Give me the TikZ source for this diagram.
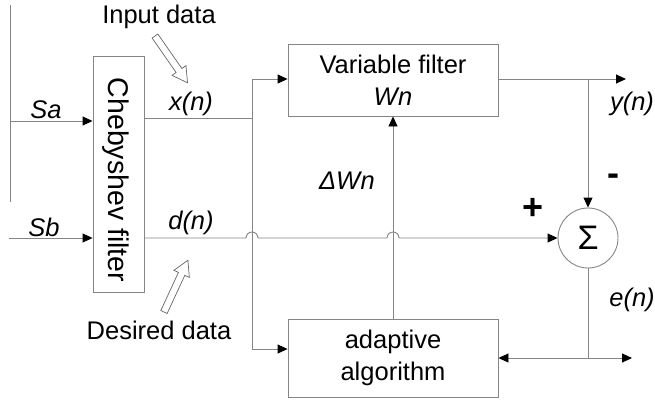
\documentclass[tikz,border=0pt]{standalone}
\usepackage{fontspec}
\setmainfont{Liberation Sans}
\usetikzlibrary{arrows.meta}
\begin{document}
\begin{tikzpicture}[x=1pt,y=-1pt,
  line/.style={draw=black!48, line width=0.9pt},
  tip/.style={-{Triangle[length=10pt,width=9pt,color=black]}},
  box/.style={line, rectangle, inner sep=0pt, align=center, font=\fontsize{25.5}{32}\selectfont},
  lbl/.style={font=\fontsize{25.5}{28}\selectfont\itshape, inner sep=0pt},
  txt/.style={font=\fontsize{25.5}{28}\selectfont, inner sep=0pt},
  sign/.style={font=\fontsize{36}{36}\selectfont\bfseries, inner sep=0pt},
  hollow/.style={draw=black!60, line width=0.7pt, fill=white}]
\useasboundingbox (0,0) rectangle (655,400);
% blocks
\node[box, minimum width=51pt, minimum height=236pt] (cheb) at (118.5,174) {};
\node[font=\fontsize{28.5}{30}\selectfont, inner sep=0pt] (chebt) at (116,180)
  {\rotatebox{-90}{Chebyshev filter}};
\node[box, minimum width=210pt, minimum height=72pt] (vf) at (393,80)
  {Variable filter\\ \itshape W\kern0.5pt n};
\node[box, minimum width=210pt, minimum height=78pt] (aa) at (393,358)
  {adaptive\\ algorithm};
\node[line, circle, minimum size=60pt, inner sep=0pt,
  font=\fontsize{34}{34}\selectfont] (sum) at (588,238) {Σ};
% coordinates
\coordinate (vtop) at (10,5);
\coordinate (vbot) at (10,202);
\coordinate (sa0) at (10,121);
\coordinate (sb0) at (9,238);
\coordinate (xr) at (252,118);
\coordinate (j1t) at (252,79);
\coordinate (j1b) at (252,349);
\coordinate (yb) at (588,79);
\coordinate (yout) at (626,79);
\coordinate (eb) at (588,358);
\coordinate (eout) at (632,358);
% connectors
\draw[line] (vtop) -- (vbot);
\draw[line,tip] (sa0) -- (sa0 -| cheb.west);
\draw[line,tip] (sb0) -- (sb0 -| cheb.west);
\draw[line] (xr -| cheb.east) -- (xr);
\draw[line] (j1t) -- (j1b);
\draw[line,tip] (j1t) -- (j1t -| vf.west);
\draw[line,tip] (j1b) -- (j1b -| aa.west);
\draw[line,tip] (aa.north) -- (vf.south);
\draw[line,tip] (vf.east |- yb) -- (yout);
\draw[line,tip] (yb) -- (sum.north);
\draw[line] (sum.south) -- (eb);
\draw[line,{Triangle[length=10pt,width=9pt,color=black]}-{Triangle[length=10pt,width=9pt,color=black]}] (aa.east |- eb) -- (eout);
\draw[line,tip] (cheb.east |- sum.west) -- (246,238)
  arc[start angle=180, end angle=360, radius=6] -- (387,238)
  arc[start angle=180, end angle=360, radius=6] -- (sum.west);
% hollow arrows
\draw[hollow, shift={(155,36)}, rotate=-55.2]
  (0,-3.5) -- (42,-3.5) -- (42,-8.5) -- (57,0) -- (42,8.5) -- (42,3.5) -- (0,3.5) -- cycle;
\draw[hollow, shift={(164,312)}, rotate=65.2]
  (0,-3.5) -- (42,-3.5) -- (42,-8.5) -- (57,0) -- (42,8.5) -- (42,3.5) -- (0,3.5) -- cycle;
% labels
\node[txt] (tin) at (159,17) {Input data};
\node[txt] (tdes) at (159,330) {Desired data};
\node[lbl] (lsa) at (46,110) {Sa};
\node[lbl] (lsb) at (44,227) {Sb};
\node[lbl] (lx) at (191,104) {x(n)};
\node[lbl] (ld) at (191,223) {d(n)};
\node[lbl] (ldw) at (347,181) {ΔW\kern0.5pt n};
\node[lbl] (ly) at (632,104) {y(n)};
\node[lbl] (le) at (632,300) {e(n)};
\node[sign] (lminus) at (613,180) {-};
\node[sign] (lplus) at (533,209) {+};
\end{tikzpicture}
\end{document}
